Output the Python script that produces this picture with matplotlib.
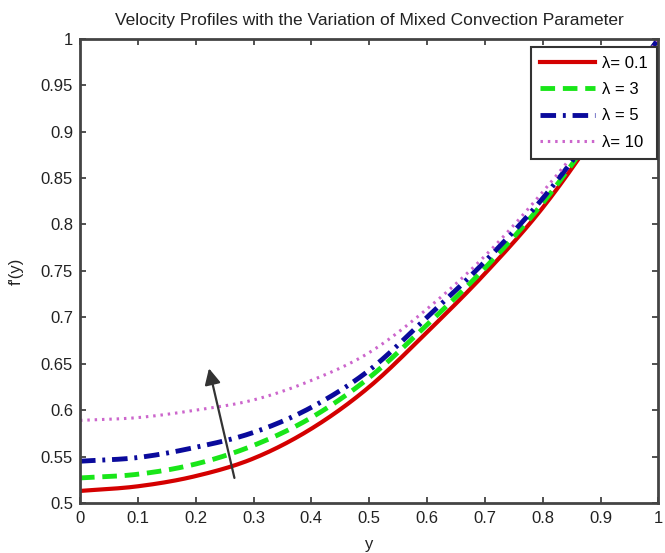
import matplotlib
matplotlib.use("Agg")
import matplotlib.pyplot as plt
import numpy as np

plt.rcParams['font.family'] = ['Liberation Sans', 'DejaVu Sans']

y_vals = [0.0, 0.1, 0.2, 0.3, 0.4, 0.5, 0.6, 0.7, 0.8, 0.9, 1.0]
f_lam01 = [0.513, 0.518, 0.529, 0.548, 0.580, 0.625, 0.684, 0.747, 0.818, 0.905, 1.0]
f_lam3 = [0.527, 0.531, 0.542, 0.562, 0.592, 0.635, 0.692, 0.753, 0.823, 0.908, 1.0]
f_lam5 = [0.545, 0.549, 0.560, 0.576, 0.603, 0.643, 0.700, 0.760, 0.828, 0.910, 1.0]
f_lam10 = [0.589, 0.592, 0.600, 0.611, 0.632, 0.662, 0.709, 0.766, 0.835, 0.913, 1.0]
labels = ['λ= 0.1', 'λ = 3', 'λ = 5', 'λ= 10']
xticks = [0, 0.1, 0.2, 0.3, 0.4, 0.5, 0.6, 0.7, 0.8, 0.9, 1]
xticklabels = ['0', '0.1', '0.2', '0.3', '0.4', '0.5', '0.6', '0.7', '0.8', '0.9', '1']
yticks = [0.5, 0.55, 0.6, 0.65, 0.7, 0.75, 0.8, 0.85, 0.9, 0.95, 1]
yticklabels = ['0.5', '0.55', '0.6', '0.65', '0.7', '0.75', '0.8', '0.85', '0.9', '0.95', '1']
arrow_tail = (0.267, 0.527)
arrow_head = (0.223, 0.645)

fig = plt.figure(figsize=(6.65, 5.53), dpi=100)
ax = fig.add_axes([0.1203, 0.0904, 0.8697, 0.8395])

xs = np.linspace(0, 1, 200)
def smooth(vals):
    # monotone cubic (Hermite) interpolation through the read points
    x = np.array(y_vals); v = np.array(vals)
    h = np.diff(x); d = np.diff(v) / h
    m = np.zeros_like(v)
    m[1:-1] = (d[:-1] + d[1:]) / 2
    m[0] = d[0]; m[-1] = d[-1]
    out = np.empty_like(xs)
    for i, t in enumerate(xs):
        k = min(np.searchsorted(x, t, side='right') - 1, len(x) - 2)
        s = (t - x[k]) / h[k]
        h00 = 2*s**3 - 3*s**2 + 1; h10 = s**3 - 2*s**2 + s
        h01 = -2*s**3 + 3*s**2; h11 = s**3 - s**2
        out[i] = h00*v[k] + h10*h[k]*m[k] + h01*v[k+1] + h11*h[k]*m[k+1]
    return out

ax.plot(xs, smooth(f_lam01), color='#d40000', lw=3, ls='-', label=labels[0])
ax.plot(xs, smooth(f_lam3), color='#19e619', lw=3.5, ls=(0, (3, 1.6)), label=labels[1])
ax.plot(xs, smooth(f_lam5), color='#0a0a9c', lw=3.5, ls=(0, (3.2, 1.4, 0.6, 1.4)), label=labels[2])
ax.plot(xs, smooth(f_lam10), color='#cc66cc', lw=2.2, ls=(0, (0.8, 1.6)), label=labels[3])

ax.annotate('', xy=arrow_head, xytext=arrow_tail,
            arrowprops=dict(arrowstyle='-|>', color='#333333', lw=1.6,
                            mutation_scale=24, shrinkA=0, shrinkB=0))

ax.set_xlim(0, 1)
ax.set_ylim(0.5, 1)
ax.set_xticks(xticks)
ax.set_xticklabels(xticklabels)
ax.set_yticks(yticks)
ax.set_yticklabels(yticklabels)
ax.tick_params(direction='in', top=True, right=True, length=4, width=1.2,
               labelsize=12, colors='#333333', labelcolor='#222222')
ax.tick_params(axis='x', pad=6)
ax.tick_params(axis='y', pad=5)
for s in ax.spines.values():
    s.set_linewidth(2)
    s.set_color('#444444')

ax.set_title('Velocity Profiles with the Variation of Mixed Convection Parameter',
             fontsize=12.5, color='#222222', pad=10)
ax.set_xlabel('y', fontsize=12, color='#222222', labelpad=8)
ax.set_ylabel("f'(y)", fontsize=12, color='#222222', labelpad=12)

leg = ax.legend(loc='upper right', bbox_to_anchor=(0.998, 0.983), fontsize=12,
                frameon=True, fancybox=False, framealpha=1.0, handlelength=3.3,
                handletextpad=0.45, borderpad=0.55, labelspacing=0.68,
                borderaxespad=0.0)
leg.get_frame().set_edgecolor('#333333')
leg.get_frame().set_linewidth(1.5)

fig.savefig('out.png', dpi=100)
